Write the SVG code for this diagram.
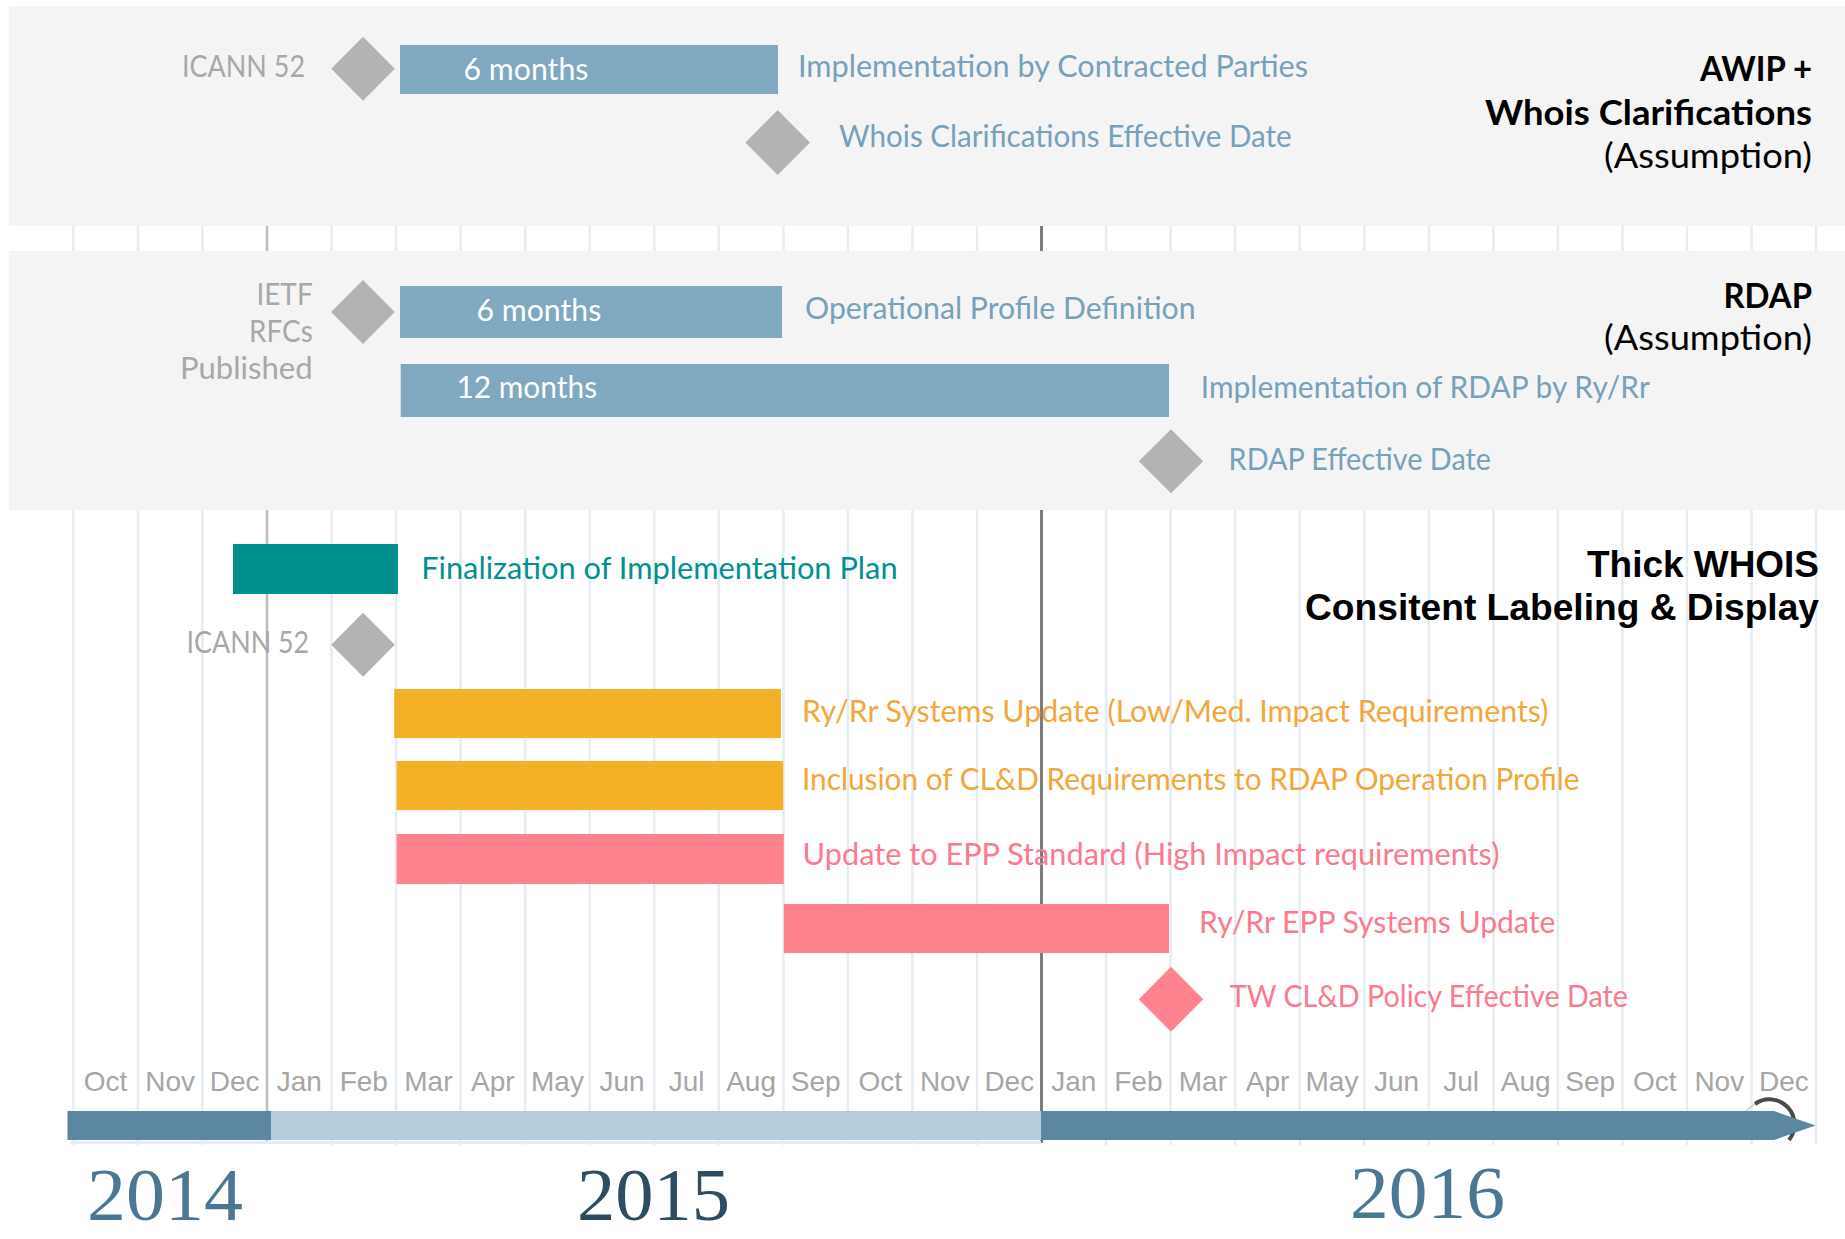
<svg xmlns="http://www.w3.org/2000/svg" width="1845" height="1239" viewBox="0 0 1845 1239">
<style>
.grid{stroke:#e5edf3;stroke-width:2.5}
.panel{fill:#f4f4f4}
.bar-blue{fill:#80a9c1}
.dia{fill:#b3b3b3}
.lbl{font-family:Lato,"Source Sans Pro","Open Sans",sans-serif;font-size:30px}
.blue{fill:#76a1ba}
.gray{fill:#a8a8a8}
.teal{fill:#00918e}
.orange{fill:#f2a73a}
.pink{fill:#fb7a8b}
.inbar{font-family:Lato,"Open Sans",sans-serif;font-size:31px;fill:#ffffff}
.ttl{font-family:Lato,"Open Sans",sans-serif;font-size:34px;fill:#000000;text-anchor:end}
.ttlb{font-weight:bold}
.ttl2{font-family:"Liberation Sans",Arial,sans-serif;font-size:36.5px;font-weight:bold;fill:#000000;text-anchor:end}
.mon{font-family:"Liberation Sans",Arial,sans-serif;font-size:28px;fill:#a6a6a6;text-anchor:middle}
.year{font-family:"Liberation Serif","Times New Roman",serif;font-size:74px}
</style>
<rect x="0" y="0" width="1845" height="1239" fill="#ffffff"/>
<g id="grid">
<line class="grid" x1="73.3" y1="226" x2="73.3" y2="1145"/>
<line class="grid" x1="137.9" y1="226" x2="137.9" y2="1145"/>
<line class="grid" x1="202.4" y1="226" x2="202.4" y2="1145"/>
<line x1="267" y1="226" x2="267" y2="1143" stroke="#bdbdbd" stroke-width="2.5"/>
<line class="grid" x1="331.5" y1="226" x2="331.5" y2="1145"/>
<line class="grid" x1="396.1" y1="226" x2="396.1" y2="1145"/>
<line class="grid" x1="460.6" y1="226" x2="460.6" y2="1145"/>
<line class="grid" x1="525.2" y1="226" x2="525.2" y2="1145"/>
<line class="grid" x1="589.7" y1="226" x2="589.7" y2="1145"/>
<line class="grid" x1="654.3" y1="226" x2="654.3" y2="1145"/>
<line class="grid" x1="718.8" y1="226" x2="718.8" y2="1145"/>
<line class="grid" x1="783.4" y1="226" x2="783.4" y2="1145"/>
<line class="grid" x1="847.9" y1="226" x2="847.9" y2="1145"/>
<line class="grid" x1="912.5" y1="226" x2="912.5" y2="1145"/>
<line class="grid" x1="977" y1="226" x2="977" y2="1145"/>
<line x1="1041.5" y1="226" x2="1041.5" y2="1143" stroke="#7c7c7c" stroke-width="3"/>
<line class="grid" x1="1106.1" y1="226" x2="1106.1" y2="1145"/>
<line class="grid" x1="1170.6" y1="226" x2="1170.6" y2="1145"/>
<line class="grid" x1="1235.2" y1="226" x2="1235.2" y2="1145"/>
<line class="grid" x1="1299.7" y1="226" x2="1299.7" y2="1145"/>
<line class="grid" x1="1364.3" y1="226" x2="1364.3" y2="1145"/>
<line class="grid" x1="1428.8" y1="226" x2="1428.8" y2="1145"/>
<line class="grid" x1="1493.4" y1="226" x2="1493.4" y2="1145"/>
<line class="grid" x1="1557.9" y1="226" x2="1557.9" y2="1145"/>
<line class="grid" x1="1622.5" y1="226" x2="1622.5" y2="1145"/>
<line class="grid" x1="1687" y1="226" x2="1687" y2="1145"/>
<line class="grid" x1="1751.6" y1="226" x2="1751.6" y2="1145"/>
<line class="grid" x1="1816.1" y1="226" x2="1816.1" y2="1145"/>
<line x1="70" y1="1142.5" x2="1041" y2="1142.5" stroke="#e5edf3" stroke-width="3"/>
</g>

<g id="panel-awip">
<rect class="panel" x="9" y="6" width="1836" height="220"/>
<polygon class="dia" points="363,36.7 394.8,68.7 363,100.7 331.2,68.7"/>
<text class="lbl gray" x="305" y="77" text-anchor="end" textLength="123" lengthAdjust="spacingAndGlyphs">ICANN 52</text>
<rect class="bar-blue" x="400" y="45" width="378" height="49"/>
<text class="inbar" x="463.5" y="79.5" textLength="125" lengthAdjust="spacingAndGlyphs">6 months</text>
<text class="lbl blue" x="798" y="77" textLength="510" lengthAdjust="spacingAndGlyphs">Implementation by Contracted Parties</text>
<polygon class="dia" points="777.7,110 810,142.5 777.7,175 745.4,142.5"/>
<text class="lbl blue" x="839" y="147" textLength="452.7" lengthAdjust="spacingAndGlyphs">Whois Clarifications Effective Date</text>
<text class="ttl ttlb" x="1812" y="81" textLength="112" lengthAdjust="spacingAndGlyphs">AWIP +</text>
<text class="ttl ttlb" x="1812" y="124.5" textLength="327" lengthAdjust="spacingAndGlyphs">Whois Clarifications</text>
<text class="ttl" x="1812" y="168" textLength="208" lengthAdjust="spacingAndGlyphs">(Assumption)</text>
</g>

<g id="panel-rdap">
<rect class="panel" x="9" y="251" width="1836" height="259"/>
<text class="lbl gray" x="312.7" y="305" text-anchor="end" textLength="56.3" lengthAdjust="spacingAndGlyphs">IETF</text>
<text class="lbl gray" x="312.7" y="341.7" text-anchor="end" textLength="63.7" lengthAdjust="spacingAndGlyphs">RFCs</text>
<text class="lbl gray" x="312.7" y="379.3" text-anchor="end" textLength="132.7" lengthAdjust="spacingAndGlyphs">Published</text>
<polygon class="dia" points="363,280 394.8,312 363,344 331.2,312"/>
<rect class="bar-blue" x="400" y="286" width="382" height="52"/>
<text class="inbar" x="476.4" y="321" textLength="125" lengthAdjust="spacingAndGlyphs">6 months</text>
<text class="lbl blue" x="805" y="318.5" textLength="390.5" lengthAdjust="spacingAndGlyphs">Operational Profile Definition</text>
<rect class="bar-blue" x="400.7" y="364" width="768.3" height="53"/>
<text class="inbar" x="456.4" y="398.3" textLength="140.8" lengthAdjust="spacingAndGlyphs">12 months</text>
<text class="lbl blue" x="1200.8" y="398" textLength="449" lengthAdjust="spacingAndGlyphs">Implementation of RDAP by Ry/Rr</text>
<polygon class="dia" points="1171,429.3 1203.2,461.3 1171,493.3 1138.8,461.3"/>
<text class="lbl blue" x="1228.6" y="470" textLength="262.4" lengthAdjust="spacingAndGlyphs">RDAP Effective Date</text>
<text class="ttl ttlb" x="1812" y="307.5" textLength="88.5" lengthAdjust="spacingAndGlyphs">RDAP</text>
<text class="ttl" x="1812" y="350" textLength="208" lengthAdjust="spacingAndGlyphs">(Assumption)</text>
</g>

<g id="panel-thick-whois">
<rect x="233" y="544" width="165" height="50" fill="#00918e"/>
<text class="lbl teal" x="421.2" y="579" textLength="476.4" lengthAdjust="spacingAndGlyphs">Finalization of Implementation Plan</text>
<text class="lbl gray" x="309.2" y="653" text-anchor="end" textLength="122.6" lengthAdjust="spacingAndGlyphs">ICANN 52</text>
<polygon class="dia" points="363,612.7 394.8,644.7 363,676.7 331.2,644.7"/>
<rect x="394.2" y="689" width="386.7" height="49" fill="#f4b127"/>
<text class="lbl orange" x="802" y="721.7" textLength="746.3" lengthAdjust="spacingAndGlyphs">Ry/Rr Systems Update (Low/Med. Impact Requirements)</text>
<rect x="396.6" y="761" width="386.6" height="49" fill="#f4b127"/>
<text class="lbl orange" x="802" y="790" textLength="777.6" lengthAdjust="spacingAndGlyphs">Inclusion of CL&amp;D Requirements to RDAP Operation Profile</text>
<rect x="396.6" y="834" width="387.2" height="50" fill="#fe838f"/>
<text class="lbl pink" x="802.6" y="865" textLength="696.8" lengthAdjust="spacingAndGlyphs">Update to EPP Standard (High Impact requirements)</text>
<rect x="783.8" y="904" width="385.2" height="49" fill="#fe838f"/>
<text class="lbl pink" x="1199" y="933" textLength="356.4" lengthAdjust="spacingAndGlyphs">Ry/Rr EPP Systems Update</text>
<polygon points="1171,966.7 1203.2,999.2 1171,1031.7 1138.8,999.2" fill="#fe838f"/>
<text class="lbl pink" x="1229.7" y="1006.7" textLength="398.3" lengthAdjust="spacingAndGlyphs">TW CL&amp;D Policy Effective Date</text>
<text class="ttl2" x="1819" y="577" textLength="232" lengthAdjust="spacingAndGlyphs">Thick WHOIS</text>
<text class="ttl2" x="1819" y="620" textLength="514" lengthAdjust="spacingAndGlyphs">Consitent Labeling &amp; Display</text>
</g>

<g id="axis">
<text class="mon" x="105.6" y="1091">Oct</text>
<text class="mon" x="170.2" y="1091">Nov</text>
<text class="mon" x="234.7" y="1091">Dec</text>
<text class="mon" x="299.3" y="1091">Jan</text>
<text class="mon" x="363.8" y="1091">Feb</text>
<text class="mon" x="428.4" y="1091">Mar</text>
<text class="mon" x="492.9" y="1091">Apr</text>
<text class="mon" x="557.5" y="1091">May</text>
<text class="mon" x="622" y="1091">Jun</text>
<text class="mon" x="686.6" y="1091">Jul</text>
<text class="mon" x="751.1" y="1091">Aug</text>
<text class="mon" x="815.7" y="1091">Sep</text>
<text class="mon" x="880.2" y="1091">Oct</text>
<text class="mon" x="944.8" y="1091">Nov</text>
<text class="mon" x="1009.3" y="1091">Dec</text>
<text class="mon" x="1073.8" y="1091">Jan</text>
<text class="mon" x="1138.4" y="1091">Feb</text>
<text class="mon" x="1202.9" y="1091">Mar</text>
<text class="mon" x="1267.5" y="1091">Apr</text>
<text class="mon" x="1332" y="1091">May</text>
<text class="mon" x="1396.6" y="1091">Jun</text>
<text class="mon" x="1461.1" y="1091">Jul</text>
<text class="mon" x="1525.7" y="1091">Aug</text>
<text class="mon" x="1590.2" y="1091">Sep</text>
<text class="mon" x="1654.8" y="1091">Oct</text>
<text class="mon" x="1719.3" y="1091">Nov</text>
<text class="mon" x="1783.9" y="1091">Dec</text>
<path d="M1755,1104 A25,25 0 0 1 1789,1140" fill="none" stroke="#4a4a4a" stroke-width="4"/>
<path d="M1742,1122 A25,25 0 0 1 1755,1104" fill="none" stroke="#cfcfcf" stroke-width="1.5"/>
<rect x="67.5" y="1111" width="203.5" height="29" fill="#5b87a0"/>
<rect x="271" y="1111" width="770" height="29" fill="#b6cddb"/>
<polygon points="1041,1111 1774,1111 1815.5,1125.5 1774,1140 1041,1140" fill="#5b87a0"/>
<text class="year" x="87" y="1220" fill="#4b7792" textLength="156" lengthAdjust="spacingAndGlyphs">2014</text>
<text class="year" x="577" y="1220" fill="#2f4d60" textLength="153" lengthAdjust="spacingAndGlyphs">2015</text>
<text class="year" x="1350" y="1218" fill="#4b7792" textLength="155" lengthAdjust="spacingAndGlyphs">2016</text>
</g>
</svg>
